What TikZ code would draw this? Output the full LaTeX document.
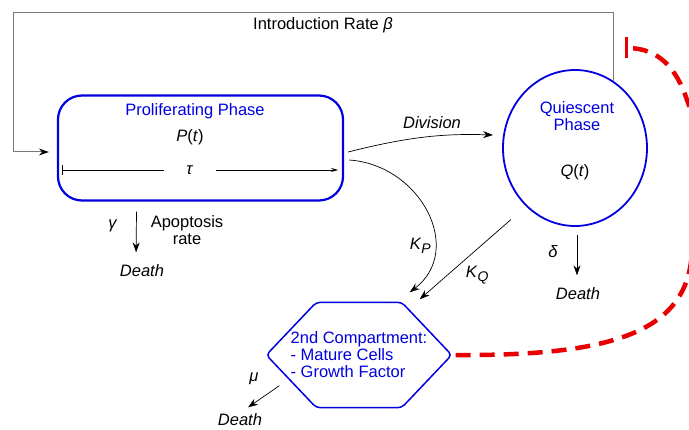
\documentclass[tikz,border=0pt]{standalone}
\usepackage{fontspec}
\setmainfont{Liberation Sans}
\usetikzlibrary{arrows.meta,positioning,calc,shapes.geometric}

\definecolor{cellblue}{RGB}{0,0,225}
\definecolor{inhibred}{RGB}{232,0,0}
\definecolor{framegray}{RGB}{120,120,120}

\newcommand{\ratesub}[2]{\textit{#1}\raisebox{-4pt}{\fontsize{14}{14}\selectfont\textit{#2}}}

\begin{document}
\begin{tikzpicture}[x=1pt,y=-1pt]
  \tikzset{
    >={Stealth[length=10pt,width=7pt]},
    every node/.style={font=\fontsize{16.5}{17}\selectfont},
    lbl/.style={text=black},
    bluelbl/.style={text=cellblue},
    phase/.style={draw=cellblue,line width=2.2pt,rounded corners=24pt,
                  minimum width=285pt,minimum height=105pt,inner sep=0pt},
    quiescent/.style={ellipse,draw=cellblue,line width=1.8pt,
                      minimum width=144pt,minimum height=156pt,inner sep=0pt},
    compart/.style={text=cellblue,align=left,minimum width=185pt,
                    minimum height=105pt,inner sep=0pt},
    flow/.style={draw=black,line width=0.7pt},
    frameline/.style={draw=framegray,line width=1pt},
    feedback/.style={draw=inhibred,line width=4.5pt,dash pattern=on 15pt off 9pt},
  }
  \useasboundingbox (0,0) rectangle (689,430);

  % compartments
  \node [phase] (pp) at (200.5,148) {};
  \node [bluelbl] (pptitle) at (195,111) {Proliferating Phase};
  \node [lbl] (pt) at (190,137) {\textit{P}(\textit{t})};
  \node [lbl,inner xsep=22pt] (tau) at (190,170) {\textit{τ}};

  \node [quiescent] (qp) at (575,148) {};
  \node [bluelbl,align=center] (qtitle) at (577,116) {Quiescent\\Phase};
  \node [lbl] (qt) at (575,172) {\textit{Q}(\textit{t})};

  \node [compart] (hx) at (359,355) {2nd Compartment:\\- Mature Cells\\- Growth Factor};
  \draw [cellblue,line width=1.5pt,rounded corners=4pt]
    (hx.west) -- ([xshift=50pt]hx.north west) -- ([xshift=-50pt]hx.north east)
    -- (hx.east) -- ([xshift=-50pt]hx.south east) -- ([xshift=50pt]hx.south west) -- cycle;

  % deaths
  \node [lbl] (pdeath) at (142,271) {\textit{Death}};
  \node [lbl] (qdeath) at (578,294) {\textit{Death}};
  \node [lbl] (hdeath) at (240,420) {\textit{Death}};
  \node [lbl,align=center] (apop) at (187,230) {Apoptosis\\rate};
  \node [lbl] (gam) at (113,226) {\textit{γ}};
  \node [lbl] (del) at (553,252) {\textit{δ}};
  \node [lbl] (mu) at (254,379) {\textit{μ}};

  % introduction loop
  \coordinate (corner) at (13,13);
  \node [lbl] (intro) at (323,25) {Introduction Rate \textit{β}};
  \draw [frameline,-{Stealth[length=10pt,width=7pt,color=black]},shorten >=8pt]
    (qp.60) |- (corner) |- ([yshift=-4pt]pp.west);

  % maturation along tau
  \draw [flow,{Bar[width=10pt]}-] ([xshift=5pt,yshift=-22pt]pp.west) -- (tau);
  \draw [flow,-{Stealth[length=7pt,width=4pt]}] (tau) -- ([xshift=-6pt,yshift=-22pt]pp.east);

  % transitions
  \draw [flow,->,shorten >=10pt] ([xshift=4pt,yshift=-4pt]pp.east) to [bend left=8]
    node [lbl,above=4pt,pos=.55] (divlbl) {\textit{Division}} (qp.170);
  \draw [flow,->] ([xshift=5pt,yshift=-12pt]pp.east) .. controls +(72,5) and +(55,-42) ..
    ([xshift=-42pt,yshift=10pt]hx.north east)
    node [lbl,pos=.7,left] (kp) {\ratesub{K}{P}};
  \draw [flow,->,shorten <=20pt] (qp.230) -- ([xshift=-32pt,yshift=3pt]hx.north east)
    node [lbl,pos=.6,below right] (kq) {\ratesub{K}{Q}};

  % death rates
  \draw [flow,->,shorten >=9pt] ([xshift=-64pt,yshift=-10pt]pp.south) -- ([xshift=-6pt]pdeath.north);
  \draw [flow,->,shorten <=8pt,shorten >=9pt] ([xshift=2pt]qp.south) -- ([xshift=-1pt]qdeath.north);
  \draw [flow,->] ([xshift=13pt,yshift=22pt]hx.south west) -- ([xshift=8pt,yshift=3pt]hdeath.north);

  % feedback
  \coordinate (inhib) at (625,48);
  \draw [feedback,-{Bar[width=21pt,line width=3pt]},shorten <=4pt] (hx.east)
    .. controls (620,356) and (695,330) .. (692,240)
    .. controls (690.5,195) and (700,130) .. (687,100)
    .. controls (677,70) and (660,48) .. (inhib);
\end{tikzpicture}
\end{document}
